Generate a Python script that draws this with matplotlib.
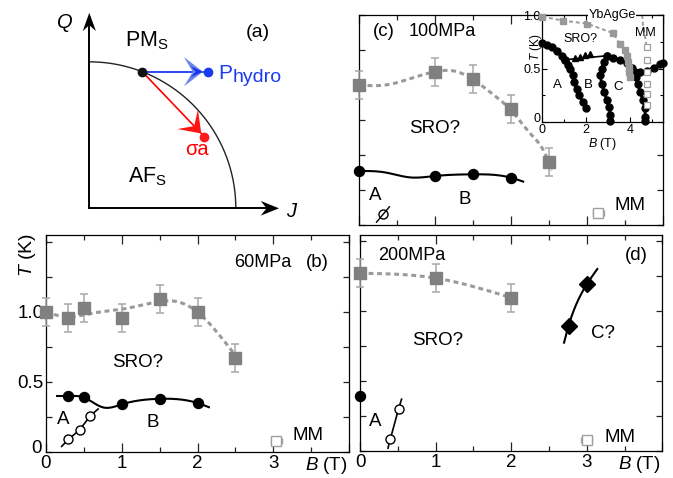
import numpy as np
import matplotlib
matplotlib.use('Agg')
import matplotlib.pyplot as plt
from matplotlib.patches import Polygon
from matplotlib.ticker import MultipleLocator, FuncFormatter

plt.rcParams['font.family'] = ['Liberation Sans', 'DejaVu Sans']
plt.rcParams['mathtext.fontset'] = 'custom'
plt.rcParams['mathtext.rm'] = 'Liberation Sans'
plt.rcParams['mathtext.it'] = 'Liberation Sans:italic'

# ---------------- data ----------------
# (b) 60 MPa
b_sro_B = [0, 0.3, 0.5, 1.0, 1.5, 2.0, 2.5]
b_sro_T = [1.0, 0.96, 1.03, 0.96, 1.09, 1.0, 0.67]
b_sro_err = [0.1] * 7
b_sro_guide_B = [0, 0.3, 0.6, 1.0, 1.4, 1.65, 2.0, 2.25, 2.5]
b_sro_guide_T = [1.0, 0.965, 0.99, 1.02, 1.065, 1.08, 1.0, 0.86, 0.69]
b_AB_B = [0.3, 0.5, 1.0, 1.5, 2.0]
b_AB_T = [0.40, 0.39, 0.34, 0.38, 0.35]
b_AB_guide_B = [0.15, 0.3, 0.5, 0.76, 1.0, 1.5, 2.0, 2.15]
b_AB_guide_T = [0.40, 0.40, 0.39, 0.318, 0.34, 0.38, 0.35, 0.32]
b_A_B = [0.3, 0.45, 0.59]
b_A_T = [0.09, 0.16, 0.26]
b_A_guide_B = [0.21, 0.3, 0.45, 0.59, 0.69]
b_A_guide_T = [0.04, 0.09, 0.16, 0.26, 0.307]
b_MM_B, b_MM_T = [3.04], [0.08]

# (c) 100 MPa
c_sro_B = [0, 1.0, 1.5, 2.0, 2.5]
c_sro_T = [1.0, 1.095, 1.04, 0.83, 0.45]
c_sro_err = [0.1] * 5
c_sro_guide_B = [0, 0.35, 0.7, 1.0, 1.25, 1.5, 1.77, 2.0, 2.25, 2.5, 2.53]
c_sro_guide_T = [1.0, 1.0, 1.05, 1.095, 1.1, 1.04, 0.93, 0.82, 0.655, 0.44, 0.39]
c_AB_B = [0, 1.0, 1.5, 2.0]
c_AB_T = [0.386, 0.35, 0.362, 0.338]
c_AB_guide_B = [0, 0.35, 0.67, 1.0, 1.5, 2.0, 2.16]
c_AB_guide_T = [0.386, 0.375, 0.34, 0.35, 0.362, 0.338, 0.31]
c_A_B, c_A_T = [0.32], [0.08]
c_A_guide_B = [0.23, 0.40]
c_A_guide_T = [0.02, 0.13]
c_MM_B, c_MM_T = [3.15], [0.088]

# (c) inset: YbAgGe
ins_AF_B = [0, 0.2, 0.43, 0.66, 0.89, 1.04]
ins_AF_T = [0.737, 0.725, 0.70, 0.663, 0.614, 0.583]
ins_AB_B = [1.04, 1.19, 1.26, 1.39, 1.46, 1.57, 1.69, 1.84, 2.0]
ins_AB_T = [0.583, 0.53, 0.50, 0.44, 0.376, 0.31, 0.25, 0.19, 0.13]
ins_tri_B = [1.48, 1.71, 1.94, 2.17]
ins_tri_T = [0.60, 0.61, 0.63, 0.64]
ins_triline_B = [1.04, 2.94]
ins_triline_T = [0.583, 0.62]
ins_BC_B = [2.94, 2.79, 2.71, 2.63, 2.71, 2.82, 2.94, 3.05, 3.09, 3.09]
ins_BC_T = [0.62, 0.56, 0.50, 0.44, 0.36, 0.28, 0.21, 0.145, 0.07, 0.01]
ins_C_B = [2.94, 3.24, 3.55, 3.85, 4.08, 4.23, 4.26, 4.34, 4.46, 4.58, 4.66, 4.70, 4.70]
ins_C_T = [0.62, 0.60, 0.58, 0.55, 0.51, 0.47, 0.42, 0.36, 0.28, 0.21, 0.13, 0.05, 0.01]
ins_HF_B = [4.46, 4.77, 5.07, 5.37, 5.5]
ins_HF_T = [0.47, 0.48, 0.51, 0.54, 0.55]
ins_SRO_B = [0, 0.96, 2.03, 3.24, 3.52, 3.78, 3.85, 3.9, 3.96, 3.97, 4.0]
ins_SRO_T = [0.985, 0.947, 0.92, 0.83, 0.73, 0.67, 0.62, 0.56, 0.51, 0.47, 0.42]
ins_MM_B = [4.75] * 6
ins_MM_T = [0.70, 0.58, 0.47, 0.36, 0.26, 0.16]
ins_MMline_B = [4.55, 4.6, 4.7, 4.75]
ins_MMline_T = [1.0, 0.88, 0.78, 0.70]

# (d) 200 MPa
d_sro_B = [0, 1.0, 2.0]
d_sro_T = [1.27, 1.235, 1.095]
d_sro_err = [0.1] * 3
d_AF_B, d_AF_T = [0], [0.395]
d_A_B = [0.40, 0.51]
d_A_T = [0.083, 0.30]
d_A_guide_B = [0.37, 0.40, 0.51, 0.55]
d_A_guide_T = [0.02, 0.083, 0.30, 0.37]
d_C_B = [2.76, 3.0]
d_C_T = [0.895, 1.19]
d_C_guide_B = [2.70, 2.76, 3.0, 3.14]
d_C_guide_T = [0.774, 0.895, 1.19, 1.30]
d_MM_B, d_MM_T = [3.0], [0.08]

# (a) schematic (units of the boundary radius)
a_point_angle = 68.8
a_hydro_end = (0.812, 0.932)
a_sigma_end = (0.785, 0.489)

# ---------------- helpers ----------------
def smooth(xs, ys, n=200):
    xs = np.asarray(xs, float); ys = np.asarray(ys, float)
    m = len(xs)
    if m < 3:
        return xs, ys
    h = np.diff(xs)
    A = np.zeros((m, m)); r = np.zeros(m)
    A[0, 0] = A[-1, -1] = 1
    for i in range(1, m - 1):
        A[i, i - 1] = h[i - 1]; A[i, i] = 2 * (h[i - 1] + h[i]); A[i, i + 1] = h[i]
        r[i] = 6 * ((ys[i + 1] - ys[i]) / h[i] - (ys[i] - ys[i - 1]) / h[i - 1])
    M = np.linalg.solve(A, r)
    xx = np.linspace(xs[0], xs[-1], n)
    idx = np.clip(np.searchsorted(xs, xx) - 1, 0, m - 2)
    x0 = xs[idx]; x1 = xs[idx + 1]; hh = x1 - x0
    a = (x1 - xx) / hh; b = (xx - x0) / hh
    yy = a * ys[idx] + b * ys[idx + 1] + ((a**3 - a) * M[idx] + (b**3 - b) * M[idx + 1]) * hh**2 / 6
    return xx, yy

W, H = 673, 478
fig = plt.figure(figsize=(W / 100, H / 100), dpi=100)

def px_axes(x0, y0, x1, y1):
    return fig.add_axes([x0 / W, 1 - y1 / H, (x1 - x0) / W, (y1 - y0) / H])

GRAY = '#808080'
ERR = '#a8a8a8'
DASH = '#9a9a9a'
FS = 13.5

def style(ax, ymax, xlabels, ylabels):
    ax.set_xlim(0, 4); ax.set_ylim(0, ymax)
    ax.xaxis.set_major_locator(MultipleLocator(1))
    ax.xaxis.set_minor_locator(MultipleLocator(0.5))
    ax.yaxis.set_major_locator(MultipleLocator(0.25))
    ax.tick_params(which='both', direction='in', top=True, right=True, width=0.9, color='#222222')
    ax.tick_params(which='major', axis='x', length=6.5, pad=2.5)
    ax.tick_params(which='minor', axis='x', length=3.5)
    ax.tick_params(which='major', axis='y', length=4.5, pad=1.5)
    ax.tick_params(axis='both', labelsize=FS)
    for s in ax.spines.values():
        s.set_linewidth(0.9)
    ax.xaxis.set_major_formatter(FuncFormatter(
        lambda v, p: ('%d' % round(v)) if (xlabels and v < 3.5) else ''))
    ylab = {0.5: '0.5', 1.0: '1.0'}
    ax.yaxis.set_major_formatter(FuncFormatter(
        lambda v, p: ylab.get(round(v, 2), '') if ylabels else ''))
    if ylabels:
        ax.annotate('0', xy=(0, 0), xycoords='axes fraction', xytext=(-2.7, 2.8),
                    textcoords='offset points', ha='right', va='center', fontsize=FS)
    if xlabels:
        ax.annotate(r'$B$ (T)', xy=(1, 0), xycoords='axes fraction', xytext=(-1, -2.5),
                    textcoords='offset points', ha='right', va='top', fontsize=FS)

def sro(ax, B, T, err, gB=None, gT=None):
    if gB is not None:
        xx, yy = smooth(gB, gT)
        ax.plot(xx, yy, color=DASH, lw=2.2, ls=(0, (1.6, 1.2)), zorder=2)
    cont = ax.errorbar(B, T, yerr=err, fmt='s', ms=8.5, mfc=GRAY, mec=GRAY, ecolor=ERR,
                       elinewidth=1.1, capsize=3, capthick=1.1, zorder=4)
    for art in cont.get_children():
        art.set_clip_on(False)

def mm(ax, B, T):
    ax.errorbar(B, T, xerr=0.07, fmt='s', ms=6.5, mfc='white', mec='#a0a0a0',
                ecolor='#a0a0a0', elinewidth=1, capsize=2.5, mew=1, zorder=4)

# ---------------- (b) ----------------
axb = px_axes(45.7, 235, 349.3, 452)
style(axb, 1.55, True, True)
sro(axb, b_sro_B, b_sro_T, b_sro_err, b_sro_guide_B, b_sro_guide_T)
xx, yy = smooth(b_AB_guide_B, b_AB_guide_T)
axb.plot(xx, yy, color='k', lw=1.5, zorder=3)
axb.plot(b_AB_B, b_AB_T, 'o', ms=7.2, color='k', zorder=5)
axb.plot(b_A_guide_B, b_A_guide_T, color='k', lw=1.2, zorder=3)
axb.plot(b_A_B, b_A_T, 'o', ms=6.5, mfc='white', mec='k', mew=1, zorder=5)
mm(axb, b_MM_B, b_MM_T)
axb.text(2.86, 1.357, '60MPa', fontsize=13, ha='center', va='center')
axb.text(3.58, 1.357, '(b)', fontsize=13.5, ha='center', va='center')
axb.text(1.21, 0.636, 'SRO?', fontsize=FS, ha='center', va='center')
axb.text(0.23, 0.23, 'A', fontsize=FS, ha='center', va='center')
axb.text(1.41, 0.21, 'B', fontsize=FS, ha='center', va='center')
axb.text(3.45, 0.115, 'MM', fontsize=FS, ha='center', va='center')
fig.text(27 / W, 1 - 255 / H, r'$T$ (K)', rotation=90, fontsize=14, ha='center', va='center')

# ---------------- (d) ----------------
axd = px_axes(360, 235, 662.3, 451)
style(axd, 1.543, True, False)
sro(axd, d_sro_B, d_sro_T, d_sro_err, d_sro_B, d_sro_T)
axd.plot(d_AF_B, d_AF_T, 'o', ms=7.2, color='k', zorder=5, clip_on=False)
axd.plot(d_A_guide_B, d_A_guide_T, color='k', lw=1.2, zorder=3)
axd.plot(d_A_B, d_A_T, 'o', ms=6.5, mfc='white', mec='k', mew=1, zorder=5)
tt, bb = smooth(d_C_guide_T, d_C_guide_B)
axd.plot(bb, tt, color='k', lw=1.5, zorder=3)
axd.plot(d_C_B, d_C_T, 'D', ms=8, color='k', zorder=5)
mm(axd, d_MM_B, d_MM_T)
axd.text(0.69, 1.40, '200MPa', fontsize=13, ha='center', va='center')
axd.text(3.66, 1.40, '(d)', fontsize=13.5, ha='center', va='center')
axd.text(1.03, 0.79, 'SRO?', fontsize=FS, ha='center', va='center')
axd.text(3.21, 0.84, 'C?', fontsize=FS, ha='center', va='center')
axd.text(0.20, 0.21, 'A', fontsize=FS, ha='center', va='center')
axd.text(3.44, 0.10, 'MM', fontsize=FS, ha='center', va='center')

# ---------------- (c) ----------------
axc = px_axes(359, 15, 663, 225)
style(axc, 1.5, False, False)
sro(axc, c_sro_B, c_sro_T, c_sro_err, c_sro_guide_B, c_sro_guide_T)
xx, yy = smooth(c_AB_guide_B, c_AB_guide_T)
axc.plot(xx, yy, color='k', lw=1.5, zorder=3)
axc.plot(c_AB_B, c_AB_T, 'o', ms=7.2, color='k', zorder=5, clip_on=False)
axc.plot(c_A_B, c_A_T, 'o', ms=6.5, mfc='white', mec='k', mew=1, zorder=4)
axc.plot(c_A_guide_B, c_A_guide_T, color='k', lw=1.0, zorder=5)
mm(axc, c_MM_B, c_MM_T)
axc.text(0.32, 1.38, '(c)', fontsize=13.5, ha='center', va='center')
axc.text(1.10, 1.38, '100MPa', fontsize=13, ha='center', va='center')
axc.text(1.0, 0.69, 'SRO?', fontsize=FS, ha='center', va='center')
axc.text(0.21, 0.21, 'A', fontsize=FS, ha='center', va='center')
axc.text(1.39, 0.18, 'B', fontsize=FS, ha='center', va='center')
axc.text(3.57, 0.14, 'MM', fontsize=FS, ha='center', va='center')

# ---------------- inset ----------------
axi = px_axes(542.3, 15, 663, 122.3)
axi.set_xlim(0, 5.5); axi.set_ylim(0, 1.0)
axi.set_facecolor('white')
axi.xaxis.set_major_locator(MultipleLocator(2))
axi.xaxis.set_minor_locator(MultipleLocator(1))
axi.yaxis.set_major_locator(MultipleLocator(0.5))
axi.yaxis.set_minor_locator(MultipleLocator(0.25))
axi.tick_params(which='both', direction='in', top=True, right=True, width=0.8,
                labelsize=9, pad=1)
axi.tick_params(which='major', length=3.5)
axi.tick_params(which='minor', length=2.5)
for s in axi.spines.values():
    s.set_linewidth(0.9)
axi.yaxis.set_major_formatter(FuncFormatter(lambda v, p: {0.5: '0.5', 1.0: '1.0'}.get(round(v, 2), '')))
axi.annotate('0', xy=(0, 0), xycoords='axes fraction', xytext=(-1.5, 2.5),
             textcoords='offset points', ha='right', va='center', fontsize=9)
axi.set_xlabel(r'$B$ (T)', fontsize=9, labelpad=0)
fig.text(536 / W, 1 - 47 / H, r'$T$ (K)', rotation=90, fontsize=8.5, ha='center', va='center')
axi.plot(ins_SRO_B, ins_SRO_T, color=DASH, lw=1.4, ls=(0, (2, 1.5)), zorder=2)
axi.plot(ins_MMline_B, ins_MMline_T, color=DASH, lw=1.4, ls=(0, (2, 1.5)), zorder=2)
axi.plot(ins_SRO_B, ins_SRO_T, 's', ms=5, color='#999999', zorder=4, clip_on=False)
axi.plot(ins_MM_B, ins_MM_T, 's', ms=5, mfc='white', mec='#a0a0a0', mew=0.9, zorder=4)
for bx, ty in [(ins_AF_B, ins_AF_T), (ins_AB_B, ins_AB_T), (ins_BC_B, ins_BC_T),
               (ins_C_B, ins_C_T), (ins_HF_B, ins_HF_T)]:
    axi.plot(bx, ty, '-o', color='k', lw=2, ms=5, zorder=3, clip_on=False)
axi.plot(ins_triline_B, ins_triline_T, color='k', lw=1.2, zorder=3)
axi.plot(ins_tri_B, ins_tri_T, '^', ms=4.5, color='k', zorder=3)
axi.text(3.18, 1.0, 'YbAgGe', fontsize=9, ha='center', va='center', zorder=6,
         bbox=dict(boxstyle='square,pad=0.05', fc='white', ec='none'))
axi.text(1.72, 0.78, 'SRO?', fontsize=9, ha='center', va='center')
axi.text(4.69, 0.83, 'MM', fontsize=9, ha='center', va='center', zorder=6)
axi.text(0.67, 0.345, 'A', fontsize=9.5, ha='center', va='center')
axi.text(2.09, 0.345, 'B', fontsize=9.5, ha='center', va='center')
axi.text(3.46, 0.33, 'C', fontsize=9.5, ha='center', va='center')

# ---------------- (a) schematic ----------------
axa = px_axes(60, 5, 300, 225)
axa.set_xlim(-0.2, 1.438); axa.set_ylim(-0.114, 1.388)
axa.axis('off')

def head(ax, tip, d, L, hw, notch, color, z=5, alpha=1.0):
    tip = np.asarray(tip, float); d = np.asarray(d, float); d = d / np.hypot(*d)
    n = np.array([-d[1], d[0]])
    pts = [tip, tip - d * L + n * hw, tip - d * notch, tip - d * L - n * hw]
    ax.add_patch(Polygon(pts, closed=True, fc=color, ec='none', zorder=z, alpha=alpha))

th = np.linspace(0, np.pi / 2, 200)
axa.plot(np.cos(th), np.sin(th), color='#222222', lw=1.0)
axa.plot([0, 0], [0, 1.25], color='k', lw=1.4)
axa.plot([0, 1.21], [0, 0], color='k', lw=1.4)
head(axa, (0, 1.335), (0, 1), 0.125, 0.045, 0.085, 'k')
head(axa, (1.295, 0), (1, 0), 0.125, 0.05, 0.085, 'k')

ang = np.deg2rad(a_point_angle)
p0 = np.array([np.cos(ang), np.sin(ang)])
hydro_end = np.array([a_hydro_end[0], p0[1]])
sig_end = np.array(a_sigma_end)
axa.plot([p0[0], hydro_end[0]], [p0[1], hydro_end[1]], color='#1a3cf0', lw=1.3, zorder=3)
d_h = hydro_end - p0
head(axa, hydro_end - np.array([0.036, 0]), d_h, 0.13, 0.1, 0.07, '#6a86ee', z=4)
head(axa, hydro_end - np.array([0.036, 0]), d_h, 0.085, 0.038, 0.05, '#1a36e6', z=5)
axa.plot(*hydro_end, 'o', ms=6, color='#1a3cf0', zorder=6)
axa.plot([p0[0], sig_end[0]], [p0[1], sig_end[1]], color='#ff0000', lw=1.2, zorder=3)
d_s = sig_end - p0
head(axa, sig_end - 0.03 * d_s / np.hypot(*d_s), d_s, 0.135, 0.097, 0.07, '#ff1414', z=4)
axa.plot(*sig_end, 'o', ms=6, color='#ff1a1a', zorder=6)
axa.plot(*p0, 'o', ms=6, color='#111111', zorder=6)

axa.text(-0.166, 1.265, r'$Q$', fontsize=14.5, ha='center', va='center')
axa.text(1.384, -0.025, r'$J$', fontsize=14.5, ha='center', va='center')
axa.text(1.151, 1.203, '(a)', fontsize=14, ha='center', va='center')
axa.text(0.39, 1.145, r'PM$_{\rm S}$', fontsize=15.5, ha='center', va='center')
axa.text(0.40, 0.215, r'AF$_{\rm S}$', fontsize=15.5, ha='center', va='center')
axa.text(0.879, 0.88, 'P', fontsize=15, color='#1a3cf0', ha='left', va='baseline')
axa.text(0.975, 0.862, 'hydro', fontsize=14, color='#1a3cf0', ha='left', va='baseline')
axa.text(0.735, 0.364, 'σa', fontsize=14.5, color='#ff0000', ha='center', va='baseline')

fig.savefig('out.png', dpi=100)
